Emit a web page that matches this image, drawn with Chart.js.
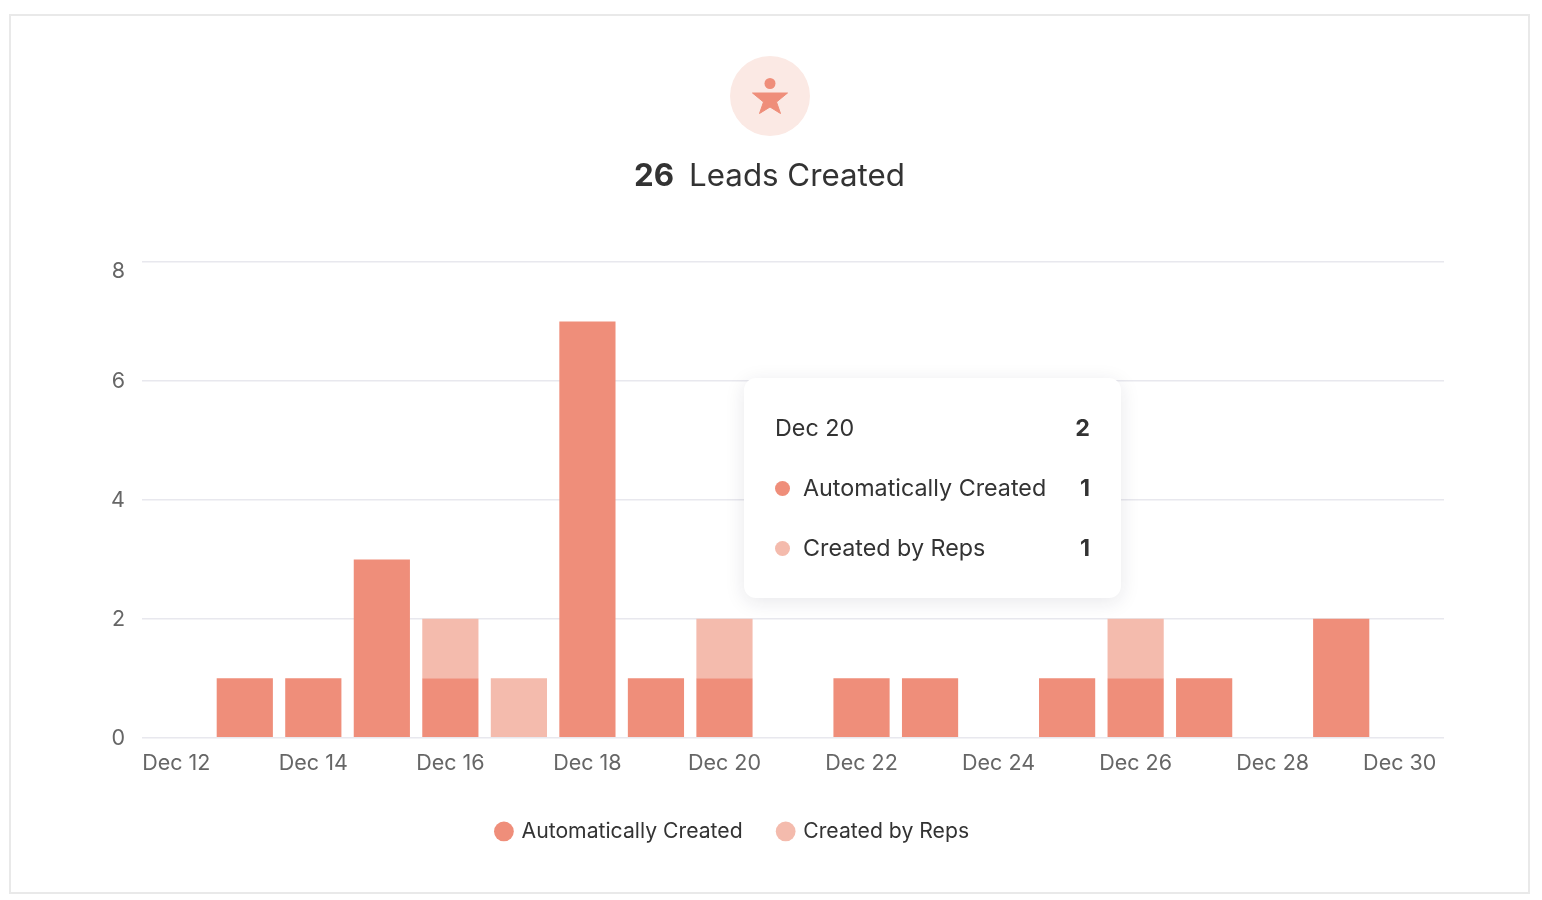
<!DOCTYPE html>
<html>
<head>
<meta charset="utf-8">
<title>Leads Created</title>
<script src="https://cdn.jsdelivr.net/npm/chart.js@4/dist/chart.umd.min.js"></script>
<style>
    html, body { margin: 0; padding: 0; background: #fff; font-family: Inter, sans-serif; }
    #page { position: relative; width: 1542px; height: 900px; overflow: hidden; }
    #card { position: absolute; left: 9px; top: 14px; width: 1517px; height: 876px; border: 2px solid #e9e9e9; }
    #chart-area { position: absolute; left: 0; top: 0; }
    #icon { position: absolute; left: 730px; top: 56px; }
    #title { position: absolute; left: 0; width: 1539px; top: 155px; text-align: center; font-size: 31.3px; line-height: 40px; color: #333; white-space: nowrap; }
    #title b { font-weight: 700; margin-right: 15px; }
    #tip { position: absolute; left: 744px; top: 378px; width: 377px; height: 220px; background: #fff; border-radius: 12px;
           box-shadow: 0 4px 20px rgba(30, 30, 60, 0.10); color: #333; font-size: 23.3px; }
    .row { position: absolute; left: 31px; right: 31px; height: 30px; line-height: 30px; white-space: nowrap; }
    .row b { position: absolute; right: 0; top: 0; font-weight: 700; }
    .row i { position: absolute; left: 0; top: 8px; width: 15px; height: 15px; border-radius: 50%; }
    .row span.lab { position: absolute; left: 28px; top: 0; }
</style>
</head>
<body>
<div id="page">
    <div id="card"></div>
    <canvas id="chart-area" width="1542" height="900"></canvas>
    <svg id="icon" width="80" height="80" viewBox="0 0 80 80">
        <circle cx="40" cy="40" r="40" fill="#fbe9e4"></circle>
        <circle cx="40" cy="27.5" r="5.5" fill="#ef8e7a"></circle>
        <path d="M22.5 37 H57.5 L46.5 46 L50.5 57.5 L40 51 L29.5 57.5 L33.5 46 Z" fill="#ef8e7a" stroke="#ef8e7a" stroke-width="1" stroke-linejoin="round"></path>
    </svg>
    <div id="title"><b>26</b>Leads Created</div>
    <div id="tip"></div>
</div>
<script>
var categories = ['Dec 12', 'Dec 13', 'Dec 14', 'Dec 15', 'Dec 16', 'Dec 17', 'Dec 18', 'Dec 19', 'Dec 20', 'Dec 21',
    'Dec 22', 'Dec 23', 'Dec 24', 'Dec 25', 'Dec 26', 'Dec 27', 'Dec 28', 'Dec 29', 'Dec 30'];
var automaticallyCreated = [0, 1, 1, 3, 1, 0, 7, 1, 1, 0, 1, 1, 0, 1, 1, 1, 0, 2, 0];
var createdByReps = [0, 0, 0, 0, 1, 1, 0, 0, 1, 0, 0, 0, 0, 0, 1, 0, 0, 0, 0];
var tooltipIndex = 8;

var autoColor = '#ef8e7a';
var repsColor = '#f4bbad';

// the source chart pulls its outermost labels inside the plot
var labelNudge = {
    id: 'labelNudge',
    beforeDraw: function (chart) {
        var xItems = chart.scales.x.getLabelItems();
        var yItems = chart.scales.y.getLabelItems();
        xItems.forEach(function (item) {
            if (item.label === 'Dec 30' && !item.nudged) {
                item.options.translation[0] -= 10;
                item.nudged = true;
            }
        });
        yItems.forEach(function (item) {
            if (!item.nudged) {
                item.options.translation[1] += item.label === '8' ? 10 : 1;
                item.nudged = true;
            }
        });
    }
};

function row(top, color, label, value) {
    var dot = color ? '<i style="background:' + color + '"></i><span class="lab">' + label + '</span>' : '<span>' + label + '</span>';
    return '<div class="row" style="top:' + top + 'px">' + dot + '<b>' + value + '</b></div>';
}

function externalTooltip(context) {
    var tip = context.tooltip;
    if (!tip.dataPoints || !tip.dataPoints.length) {
        return;
    }
    var total = 0;
    var html = '';
    tip.dataPoints.forEach(function (p, i) {
        total += p.raw;
        html += row(95 + i * 60, p.dataset.backgroundColor, p.dataset.label, p.formattedValue);
    });
    document.getElementById('tip').innerHTML = row(35, null, tip.title[0], total) + html;
}

var config = {
    type: 'bar',
    data: {
        labels: categories,
        datasets: [{
                label: 'Automatically Created',
                data: automaticallyCreated,
                backgroundColor: autoColor,
                categoryPercentage: 1,
                barPercentage: 0.82
            }, {
                label: 'Created by Reps',
                data: createdByReps,
                backgroundColor: repsColor,
                categoryPercentage: 1,
                barPercentage: 0.82
            }]
    },
    plugins: [labelNudge],
    options: {
        responsive: false,
        animation: false,
        events: [],
        layout: {
            padding: { left: 22, right: 98, top: 262, bottom: 48 }
        },
        scales: {
            x: {
                stacked: true,
                grid: { display: false, drawTicks: false },
                border: { display: false },
                afterFit: function (scale) { scale.height = 47; },
                ticks: {
                    color: '#666',
                    font: { family: 'Inter', size: 21.5 },
                    padding: 13,
                    maxRotation: 0,
                    autoSkip: false,
                    callback: function (value, index) {
                        return index % 2 === 0 ? categories[index] : '';
                    }
                }
            },
            y: {
                stacked: true,
                min: 0,
                max: 8,
                afterFit: function (scale) { scale.width = 120; },
                grid: { color: '#e8e8ee', lineWidth: 1.5, drawTicks: false },
                border: { display: false },
                ticks: {
                    stepSize: 2,
                    color: '#666',
                    font: { family: 'Inter', size: 21.5 },
                    padding: 17
                }
            }
        },
        plugins: {
            legend: {
                position: 'bottom',
                labels: {
                    usePointStyle: true,
                    pointStyle: 'circle',
                    boxWidth: 14,
                    boxHeight: 14,
                    padding: 36,
                    color: '#333',
                    font: { family: 'Inter', size: 21.2 }
                }
            },
            tooltip: {
                enabled: false,
                mode: 'index',
                external: externalTooltip
            }
        }
    }
};

var ctx = document.getElementById('chart-area').getContext('2d');
window.myBar = new Chart(ctx, config);
window.myBar.tooltip.setActiveElements([
    { datasetIndex: 0, index: tooltipIndex },
    { datasetIndex: 1, index: tooltipIndex }
], { x: 0, y: 0 });
window.myBar.update();
</script>
</body>
</html>
